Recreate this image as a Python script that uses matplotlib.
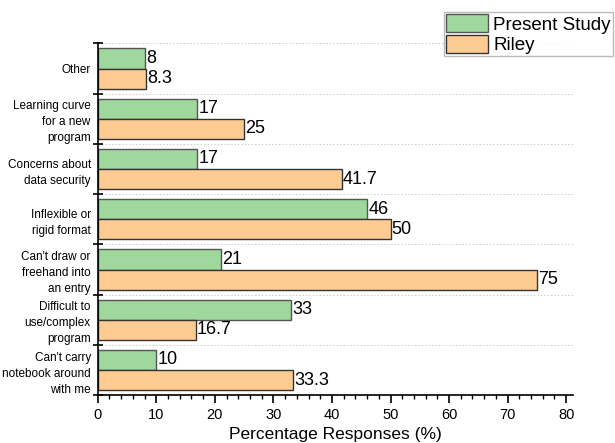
import matplotlib
matplotlib.use("Agg")
import matplotlib.pyplot as plt
import numpy as np
from matplotlib.ticker import MultipleLocator, FixedLocator, NullFormatter

categories = [
    "Other",
    "Learning curve\nfor a new\nprogram",
    "Concerns about\ndata security",
    "Inflexible or\nrigid format",
    "Can't draw or\nfreehand into\nan entry",
    "Difficult to\nuse/complex\nprogram",
    "Can't carry\nnotebook around\nwith me",
]
present_study = [8, 17, 17, 46, 21, 33, 10]
riley = [8.3, 25, 41.7, 50, 75, 16.7, 33.3]
present_labels = ["8", "17", "17", "46", "21", "33", "10"]
riley_labels = ["8.3", "25", "41.7", "50", "75", "16.7", "33.3"]

plt.rcParams["font.family"] = ["Liberation Sans", "DejaVu Sans"]

fig = plt.figure(figsize=(6.15, 4.43), dpi=100)
ax = fig.add_axes([0.159, 0.108, 0.773, 0.794])

pos = np.arange(len(categories))
h = 0.4
green = "#9fd79c"
orange = "#fecc93"

ax.barh(pos - h / 2, present_study, height=h, color=green, edgecolor="#555555",
        linewidth=1.0, label="Present Study", zorder=2)
ax.barh(pos + h / 2, riley, height=h, color=orange, edgecolor="#333333",
        linewidth=1.0, label="Riley", zorder=2)

for y, v, s in zip(pos - h / 2, present_study, present_labels):
    ax.text(v + 0.2, y, s, va="center", ha="left", fontsize=13)
for y, v, s in zip(pos + h / 2, riley, riley_labels):
    ax.text(v + 0.2, y, s, va="center", ha="left", fontsize=13)

ax.set_ylim(len(categories) - 0.5, -0.5)
ax.set_xlim(0, 81.2)

# group boundaries carry the ticks and dotted grid, centres carry the names
ax.yaxis.set_major_locator(FixedLocator(np.arange(-0.5, len(categories), 1.0)))
ax.yaxis.set_major_formatter(NullFormatter())
ax.yaxis.set_minor_locator(FixedLocator(pos))
ax.set_yticklabels(categories, minor=True, fontsize=8.5, linespacing=1.45)
ax.tick_params(axis="y", which="major", direction="inout", length=7, width=1.2)
ax.tick_params(axis="y", which="minor", length=0, pad=5)
ax.grid(axis="y", which="major", linestyle=(0, (1.5, 2)), color="#cccccc",
        linewidth=0.7, zorder=0)

ax.xaxis.set_major_locator(MultipleLocator(10))
ax.xaxis.set_minor_locator(MultipleLocator(2))
ax.tick_params(axis="x", which="major", direction="out", length=6, width=1.2,
               labelsize=10.5, pad=3)
ax.tick_params(axis="x", which="minor", direction="out", length=3, width=1.0)
ax.set_xlabel("Percentage Responses (%)", fontsize=12.5, labelpad=4)

for side in ("top", "right"):
    ax.spines[side].set_visible(False)
for side in ("left", "bottom"):
    ax.spines[side].set_linewidth(1.2)

leg = fig.legend(loc="upper left", bbox_to_anchor=(0.722, 0.973), fontsize=13.5,
                 frameon=True, fancybox=False, edgecolor="#aaaaaa",
                 handlelength=2.2, handleheight=1.1, handletextpad=0.3,
                 labelspacing=0.05, borderpad=0.12, borderaxespad=0)
leg.get_frame().set_linewidth(1.0)

fig.savefig("out.png", dpi=100)
